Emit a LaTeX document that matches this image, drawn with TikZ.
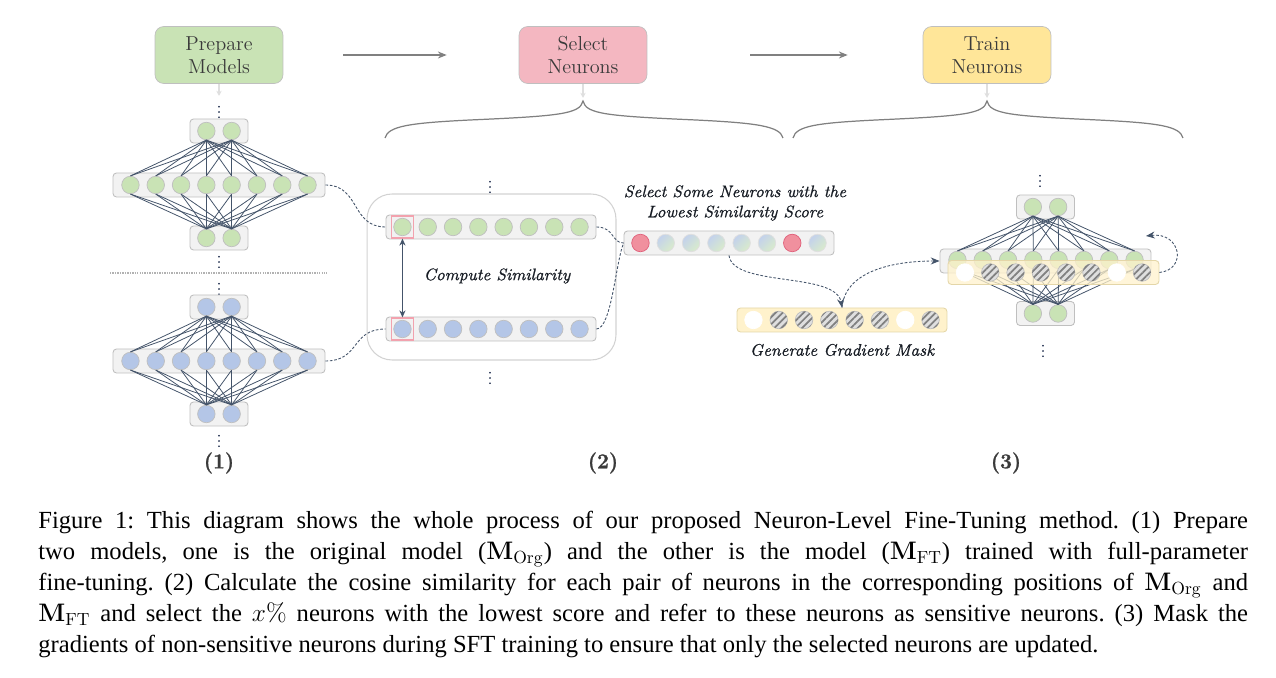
\documentclass[tikz,border=0pt]{standalone}
\usepackage[no-math]{fontspec}
\newfontfamily\capfont{Liberation Serif}
\newfontfamily\notefont{Latin Modern Roman}[ItalicFeatures={FakeBold=0.8}]
\newfontfamily\labelfont{Latin Modern Roman}[BoldFeatures={FakeBold=1.2}]
\newfontface\dotfont{Latin Modern Roman}[FakeBold=2]
\usetikzlibrary{arrows.meta,calc,patterns.meta}
\definecolor{GreenClr}{HTML}{C9E3B5}
\definecolor{BlueClr}{HTML}{B4C6E7}
\definecolor{PinkClr}{HTML}{F4B7C1}
\definecolor{YellowClr}{HTML}{FFE699}
\definecolor{MaskClr}{HTML}{FFF2CC}
\definecolor{MaskEdge}{HTML}{E4D6A8}
\definecolor{RedClr}{HTML}{F0909E}
\definecolor{RedEdge}{HTML}{E0607A}
\definecolor{PickClr}{HTML}{F2A2AE}
\definecolor{LineClr}{HTML}{44546A}
\definecolor{BoxClr}{HTML}{F2F2F2}
\definecolor{TextClr}{HTML}{3A3A3A}
\definecolor{DotClr}{HTML}{1F2D4D}

\tikzset{
  neuron/.style={circle,draw=gray!50,line width=0.4pt,minimum size=0.35cm,inner sep=0pt},
  masked/.style={neuron,fill=gray!25,postaction={pattern={Lines[angle=45,distance=2.8pt,line width=1pt]},pattern color=gray}},
  unmasked/.style={neuron,fill=white,draw=white},
  lowest/.style={neuron,fill=RedClr,draw=RedEdge},
  similar/.style={neuron,draw=gray!25,top color=BlueClr!80!white,bottom color=GreenClr!70!white,shading angle=45},
  layer/.style={rectangle,rounded corners=2pt,draw=gray!50,fill=BoxClr,line width=0.5pt,minimum height=0.48cm,inner sep=0pt},
  stage/.style={rectangle,rounded corners=5pt,draw=gray!50,minimum width=2.56cm,minimum height=1.14cm,align=center,text=TextClr,font=\fontsize{11.5}{13.2}\selectfont},
  pick/.style={rectangle,draw=PickClr,line width=0.7pt,minimum size=0.44cm,inner sep=0pt},
  link/.style={draw=LineClr,line width=0.5pt,dash pattern=on 1.5pt off 1pt},
  wire/.style={draw=LineClr,line width=0.45pt},
  flow/.style={-{Stealth[length=5pt,width=4pt]},draw=gray,line width=0.7pt},
  drop/.style={-{Stealth[length=3pt,width=3pt]},draw=gray!25,line width=0.6pt},
  note/.style={font=\notefont\fontsize{9.5}{11.5}\selectfont\itshape,text=LineClr!35!black,align=center},
  more/.style={text=DotClr,inner sep=0pt,scale=0.75,font=\dotfont},
  step label/.style={font=\labelfont\fontsize{12}{14}\selectfont\bfseries,text=TextClr},
}

\begin{document}
\begin{tikzpicture}[x=0.02cm,y=-0.02cm]
\useasboundingbox (0,0) rectangle (1276,678);

% the three stages
\node[stage,fill=GreenClr] (prep) at (219,55) {Prepare\\Models};
\node[stage,fill=PinkClr] (sel) at (583,55) {Select\\Neurons};
\node[stage,fill=YellowClr] (train) at (987,55) {Train\\Neurons};
\draw[flow,shorten <=1.2cm,shorten >=1.44cm] (prep) -- (sel);
\draw[flow,shorten <=2.06cm,shorten >=1.5cm] (sel) -- (train);

\coordinate (prepend) at (219,96);
\coordinate (selend) at (583,98);
\coordinate (trainend) at (987,98);
\draw[drop] (prep.south) -- (prepend);
\draw[drop] (sel.south) -- (selend);
\draw[drop] (train.south) -- (trainend);

% braces
\draw[gray,line width=0.7pt] (385,138) .. controls (388,126) and (410,123) .. (470,120)
  .. controls (560,116) and (580,114) .. (583,101) .. controls (586,114) and (606,116) .. (696,120)
  .. controls (756,123) and (780,126) .. (783,138);
\draw[gray,line width=0.7pt] (793,138) .. controls (796,126) and (816,123) .. (876,120)
  .. controls (964,116) and (984,114) .. (987,101) .. controls (990,114) and (1010,116) .. (1098,120)
  .. controls (1158,123) and (1180,126) .. (1183,138);

% (1) original model
\node[more] (gdotsa) at (219,108) {$\vdots$};
\node[layer,minimum width=1.16cm] (gt) at (219,131) {};
\node[layer,minimum width=4.24cm] (gm) at (219,185) {};
\node[layer,minimum width=1.16cm] (gb) at (219,238) {};
\foreach \i in {1,2} {
  \node[neuron,fill=GreenClr] (gt\i) at ({219+(\i-1.5)*25.3},131) {};
  \node[neuron,fill=GreenClr] (gb\i) at ({219+(\i-1.5)*25.3},238) {};
}
\foreach \j in {1,...,8}
  \node[neuron,fill=GreenClr] (gm\j) at ({219+(\j-4.5)*25.3},185) {};
\foreach \i in {1,2} \foreach \j in {1,...,8} {
  \draw[wire] (gt\i.south) -- (gm\j.north);
  \draw[wire] (gm\j.south) -- (gb\i.north);
}
\node[more] (gdotsb) at (219,258) {$\vdots$};

\draw[gray!60,line width=0.6pt,dash pattern=on 0.8pt off 0.6pt] (110,273) -- (327,273);

% (1) fine-tuned model
\node[more] (bdotsa) at (219,285) {$\vdots$};
\node[layer,minimum width=1.16cm] (bt) at (219,307) {};
\node[layer,minimum width=4.24cm] (bm) at (219,361) {};
\node[layer,minimum width=1.16cm] (bb) at (219,414) {};
\foreach \i in {1,2} {
  \node[neuron,fill=BlueClr] (bt\i) at ({219+(\i-1.5)*25.3},307) {};
  \node[neuron,fill=BlueClr] (bb\i) at ({219+(\i-1.5)*25.3},414) {};
}
\foreach \j in {1,...,8}
  \node[neuron,fill=BlueClr] (bm\j) at ({219+(\j-4.5)*25.3},361) {};
\foreach \i in {1,2} \foreach \j in {1,...,8} {
  \draw[wire] (bt\i.south) -- (bm\j.north);
  \draw[wire] (bm\j.south) -- (bb\i.north);
}
\node[more] (bdotsb) at (219,437) {$\vdots$};
\node[step label] (laba) at (219,463) {(1)};

% (2) compute similarity
\node[more] (cdotsa) at (490,183) {$\vdots$};
\node[rectangle,rounded corners=0.5cm,draw=gray!35,line width=0.6pt,minimum width=4.98cm,minimum height=3.32cm] (simbox) at (491.5,277) {};
\node[layer,minimum width=4.2cm] (ct) at (491,227) {};
\node[layer,minimum width=4.2cm] (cb) at (491,329) {};
\foreach \j in {1,...,8} {
  \node[neuron,fill=GreenClr] (ct\j) at ({491+(\j-4.5)*25.3},227) {};
  \node[neuron,fill=BlueClr] (cb\j) at ({491+(\j-4.5)*25.3},329) {};
}
\node[pick] (hlt) at (ct1) {};
\node[pick] (hlb) at (cb1) {};
\draw[LineClr,line width=0.6pt,{Stealth[length=4pt,width=3.5pt]}-{Stealth[length=4pt,width=3.5pt]}] (hlt.south) -- (hlb.north);
\node[note] (simtxt) at (497,276) {Compute Similarity};
\node[more] (cdotsb) at (490,374) {$\vdots$};
\node[step label] (labb) at (603,463) {(2)};

\draw[link] (gm.east) .. controls +(35,0) and +(-35,0) .. (ct.west);
\draw[link] (bm.east) .. controls +(35,0) and +(-35,0) .. (cb.west);

% (2) select and mask
\node[note] (seltxt) at (735,203) {Select Some Neurons with the\\Lowest Similarity Score};
\node[layer,minimum width=4.2cm] (sb) at (729,243) {};
\foreach \j/\st in {1/lowest,2/similar,3/similar,4/similar,5/similar,6/similar,7/lowest,8/similar}
  \node[\st] (sb\j) at ({729+(\j-4.5)*25.3},243) {};
\draw[link] (ct.east) .. controls +(18,0) and +(-12,0) .. (sb.west);
\draw[link] (cb.east) .. controls +(15,0) and +(-8,20) .. (sb.west);

\node[layer,fill=MaskClr,draw=MaskEdge,minimum width=4.2cm] (mk) at (842,320) {};
\foreach \j/\st in {1/unmasked,2/masked,3/masked,4/masked,5/masked,6/masked,7/unmasked,8/masked}
  \node[\st] (mk\j) at ({842+(\j-4.5)*25.3},320) {};
\node[note] (masktxt) at (842,350) {Generate Gradient Mask};
\draw[link,-{Stealth[length=5pt,width=4pt]}] (sb.south) .. controls +(4,32) and +(-6,-36) .. (mk.north);

% (3) train the selected neurons
\node[more] (tdotsa) at (1040,177) {$\vdots$};
\node[layer,minimum width=1.16cm] (tt) at (1045.5,207) {};
\node[layer,minimum width=4.22cm] (tm) at (1045.5,261) {};
\node[layer,minimum width=1.16cm] (tb) at (1045.5,313.5) {};
\foreach \i in {1,2} {
  \node[neuron,fill=GreenClr] (tt\i) at ({1045.5+(\i-1.5)*25.3},207) {};
  \node[neuron,fill=GreenClr] (tb\i) at ({1045.5+(\i-1.5)*25.3},313.5) {};
}
\foreach \j in {1,...,8}
  \node[neuron,fill=GreenClr] (tm\j) at ({1046+(\j-4.5)*25.3},260) {};
\foreach \i in {1,2} \foreach \j in {1,...,8} {
  \draw[wire] (tt\i.south) -- (tm\j.north);
  \draw[wire] (tm\j.south) -- (tb\i.north);
}
\node[layer,fill=MaskClr,draw=MaskEdge,fill opacity=0.75,minimum width=4.22cm] (tk) at (1053.5,272.5) {};
\foreach \j/\st in {1/unmasked,2/masked,3/masked,4/masked,5/masked,6/masked,7/unmasked,8/masked}
  \node[\st] (tk\j) at ({1053.5+(\j-4.5)*25.3},272.5) {};
\node[more] (tdotsb) at (1043,347) {$\vdots$};
\node[step label] (labc) at (1006,463) {(3)};

\draw[link,-{Stealth[length=5pt,width=4pt]}] (mk.north) .. controls +(3,-35) and +(-50,0) .. (tm.west);
\coordinate (loopend) at (1146,236);
\draw[link,-{Stealth[length=5pt,width=4pt]}] (tk.east) .. controls +(28,-3) and +(35,-4) .. (loopend);

% caption
\node[anchor=north west,inner sep=0pt,text width=24.2cm,align=justify,font=\capfont\fontsize{14}{17.6}\selectfont\frenchspacing] (cap) at (38,511) {Figure 1: This diagram shows the whole process of our proposed Neuron-Level Fine-Tuning method. (1) Prepare\linebreak
two models, one is the original model (\(\mathbf{M}_{\mathrm{Org}}\)) and the other is the model (\(\mathbf{M}_{\mathrm{FT}}\)) trained with full-parameter\linebreak
fine-tuning. (2) Calculate the cosine similarity for each pair of neurons in the corresponding positions of \(\mathbf{M}_{\mathrm{Org}}\) and\linebreak
\(\mathbf{M}_{\mathrm{FT}}\) and select the \(x\%\) neurons with the lowest score and refer to these neurons as sensitive neurons. (3) Mask the\linebreak
gradients of non-sensitive neurons during SFT training to ensure that only the selected neurons are updated.};
\end{tikzpicture}
\end{document}
